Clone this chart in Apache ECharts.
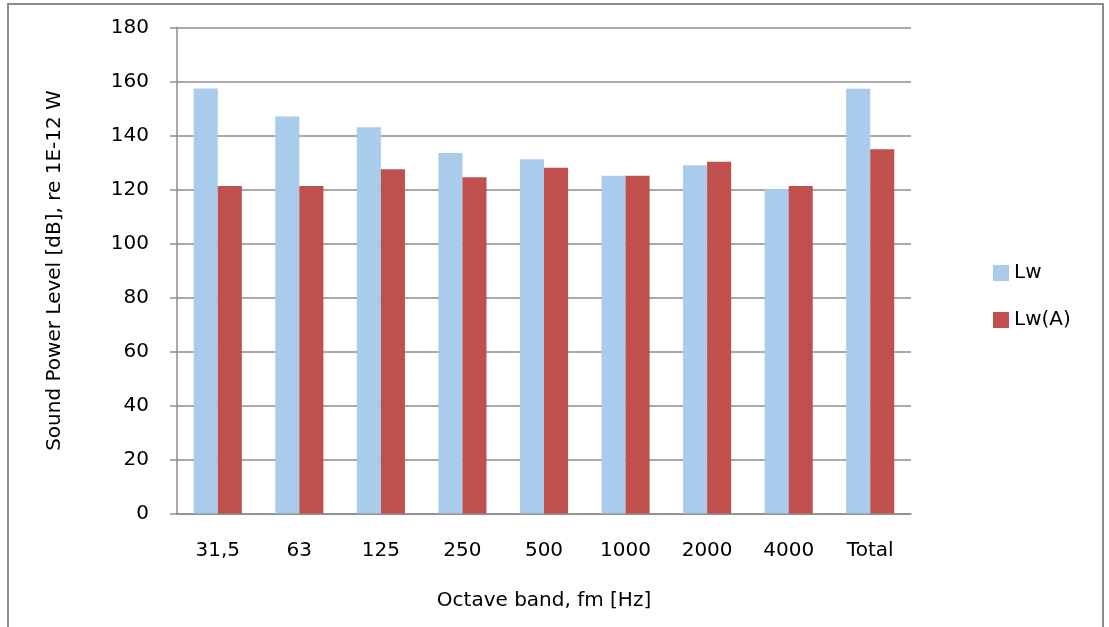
<!DOCTYPE html>
<html><head><meta charset="utf-8">
<script src="https://cdn.jsdelivr.net/npm/echarts@6/dist/echarts.min.js"></script>
<style>html,body{margin:0;padding:0;background:#fff}#c{width:1109px;height:627px}</style>
</head><body><div id="c"></div>
<script>
const categories = ['31,5','63','125','250','500','1000','2000','4000','Total'];
const lw = [157.4, 147.0, 143.1, 133.5, 131.2, 125.1, 129.0, 120.2, 157.3];
const lwA = [121.3, 121.3, 127.5, 124.5, 128.1, 125.1, 130.3, 121.3, 134.9];
const yTicks = {min: 0, max: 180, interval: 20};

const font = 'DejaVu Sans, sans-serif';
const fs = 20;
const chart = echarts.init(document.getElementById('c'));
chart.setOption({
  animation: false,
  textStyle: {fontFamily: font},
  graphic: [{type: 'rect', shape: {x: 8, y: 4, width: 1095, height: 650}, style: {fill: 'none', stroke: '#8c8c8c', lineWidth: 2}, z: -1}],
  grid: {left: 177, right: 198, top: 27.5, bottom: 113.5},
  legend: {
    orient: 'vertical', left: 988, top: 258, itemWidth: 16, itemHeight: 16, itemGap: 27,
    icon: 'rect', textStyle: {fontSize: fs, color: '#000', fontFamily: font},
    data: ['Lw', 'Lw(A)']
  },
  xAxis: {
    type: 'category', data: categories,
    name: 'Octave band, fm [Hz]', nameLocation: 'middle', nameGap: 77,
    nameTextStyle: {fontSize: fs, color: '#000', fontFamily: font},
    axisLine: {lineStyle: {color: '#8c8c8c', width: 1.5}},
    axisTick: {length: 9, lineStyle: {color: '#8c8c8c', width: 1.5}},
    axisLabel: {fontSize: fs, color: '#000', margin: 27, fontFamily: font}
  },
  yAxis: {
    type: 'value', min: yTicks.min, max: yTicks.max, interval: yTicks.interval,
    name: 'Sound Power Level [dB], re 1E-12 W', nameLocation: 'middle', nameGap: 112,
    nameTextStyle: {fontSize: fs, color: '#000', fontFamily: font},
    axisLine: {show: true, lineStyle: {color: '#8c8c8c', width: 1.5}},
    axisTick: {show: true, length: 7, lineStyle: {color: '#8c8c8c', width: 1.5}},
    axisLabel: {fontSize: fs, color: '#000', margin: 28, fontFamily: font},
    splitLine: {lineStyle: {color: '#8c8c8c', width: 1.5}}
  },
  series: [
    {name: 'Lw', type: 'bar', data: lw, barGap: '0%', barCategoryGap: '41%', itemStyle: {color: '#A9CCEC'}},
    {name: 'Lw(A)', type: 'bar', data: lwA, barGap: '0%', barCategoryGap: '41%', itemStyle: {color: '#C0504D'}}
  ]
});
</script></body></html>
